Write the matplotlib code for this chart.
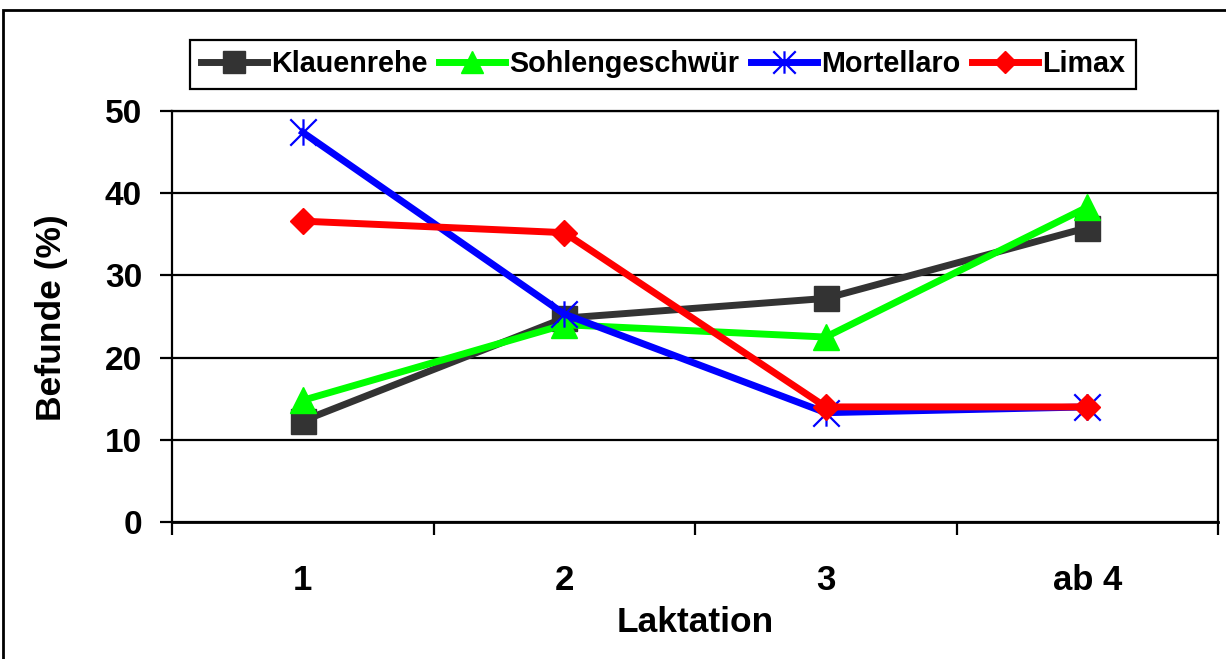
import matplotlib
matplotlib.use("Agg")
import matplotlib.pyplot as plt
from matplotlib.path import Path
from matplotlib.patches import Rectangle

# Data
categories = ["1", "2", "3", "ab 4"]
klauenrehe = [12.3, 24.8, 27.2, 35.8]
sohlengeschwuer = [14.8, 24.0, 22.5, 38.3]
mortellaro = [47.4, 25.3, 13.3, 14.0]
limax = [36.6, 35.2, 14.0, 14.0]

series_names = ["Klauenrehe", "Sohlengeschwür", "Mortellaro", "Limax"]
y_ticks = [0, 10, 20, 30, 40, 50]

plt.rcParams["font.family"] = ["Liberation Sans", "DejaVu Sans"]
plt.rcParams["font.weight"] = "bold"

fig = plt.figure(figsize=(12.26, 6.59), dpi=100)
ax = fig.add_axes([172 / 1226, 1 - 522 / 659, (1218 - 172) / 1226, (522 - 111) / 659])

# Asterisk marker: X plus a vertical bar
star_path = Path(
    [(-1, -1), (1, 1), (-1, 1), (1, -1), (0, -1), (0, 1)],
    [Path.MOVETO, Path.LINETO, Path.MOVETO, Path.LINETO, Path.MOVETO, Path.LINETO],
)

x = list(range(1, len(categories) + 1))
lw = 5.0
ax.plot(x, klauenrehe, color="#333333", lw=lw, marker="s", ms=18, mew=1,
        mec="#333333", label=series_names[0], zorder=3)
ax.plot(x, sohlengeschwuer, color="#00FF00", lw=lw, marker="^", ms=19, mew=1,
        mec="#00FF00", label=series_names[1], zorder=4)
ax.plot(x, mortellaro, color="#0000FF", lw=lw, marker=star_path, ms=19, mew=1.6,
        mec="#0000FF", mfc="none", label=series_names[2], zorder=5)
ax.plot(x, limax, color="#FF0000", lw=lw, marker="D", ms=13.5, mew=1,
        mec="#FF0000", label=series_names[3], zorder=6)

ax.set_xlim(0.5, len(categories) + 0.5)
ax.set_ylim(0, 50)

# Y axis
ax.set_yticks(y_ticks)
ax.set_yticklabels([str(v) for v in y_ticks])
ax.yaxis.grid(True, color="black", lw=1.6)
ax.set_axisbelow(True)
ax.tick_params(axis="y", which="major", length=8.6, width=1.6, pad=13,
               labelsize=24, direction="out")

# X axis: boundary ticks, centered labels
ax.set_xticks([i + 0.5 for i in range(0, len(categories) + 1)])
ax.set_xticklabels([])
ax.set_xticks(x, minor=True)
ax.set_xticklabels(categories, minor=True)
ax.tick_params(axis="x", which="major", length=9.5, width=1.6, direction="out")
ax.tick_params(axis="x", which="minor", length=0, pad=30, labelsize=25)

for s in ax.spines.values():
    s.set_color("black")
    s.set_linewidth(1.6)
ax.spines["bottom"].set_linewidth(2.0)

ax.set_xlabel("Laktation", fontsize=25.5, fontweight="bold", va="center")
ax.xaxis.set_label_coords(0.5, -(623 - 522) / 411)
ax.set_ylabel("Befunde (%)", fontsize=25.5, fontweight="bold", va="center")
ax.yaxis.set_label_coords((52 - 172) / 1046, (522 - 318) / 411)

leg = fig.legend(loc="center", bbox_to_anchor=(663 / 1226, 1 - 64.5 / 659),
                 ncol=4, fontsize=20.7, frameon=True, fancybox=False,
                 handlelength=2.3, handletextpad=0.15, columnspacing=0.4,
                 borderpad=0.35, borderaxespad=0, markerscale=0.85)
leg.get_frame().set_edgecolor("black")
leg.get_frame().set_linewidth(1.6)
leg.get_frame().set_alpha(1)
for t in leg.get_texts():
    t.set_fontweight("bold")

# Outer frame around the chart area
fig.patches.append(Rectangle((3 / 1226, -0.2), 1.2, 1 - 10 / 659 + 0.2,
                             transform=fig.transFigure, fill=False,
                             edgecolor="black", lw=2.0, zorder=0))

fig.savefig("out.png", dpi=100)
